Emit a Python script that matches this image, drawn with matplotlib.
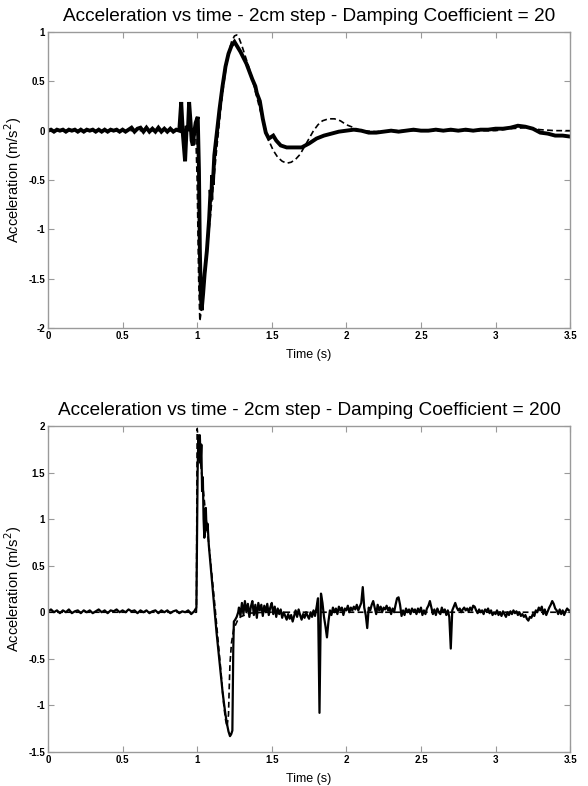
import numpy as np
import matplotlib
matplotlib.use("Agg")
import matplotlib.pyplot as plt

plt.rcParams['font.family'] = ['Liberation Sans', 'DejaVu Sans']

# ---------------- damping coefficient = 20 ----------------
# measured acceleration (thick, noisy trace)
t_exp20_quiet = np.round(np.arange(0.0, 0.87, 0.02), 3)
a_exp20_quiet = [0.00, 0.01, -0.01, 0.01, 0.00, 0.01, -0.01, 0.01, 0.00, 0.01,
                 -0.01, 0.01, -0.01, 0.01, 0.00, 0.01, -0.01, 0.01, -0.01, 0.01,
                 -0.01, 0.01, 0.00, 0.01, -0.01, 0.01, -0.01, 0.01, 0.03, -0.01,
                 0.02, 0.03, -0.01, 0.03, -0.01, 0.02, -0.01, 0.03, -0.01, 0.02,
                 -0.01, 0.02, -0.01, 0.01]
t_exp20_event = [0.88, 0.893, 0.905, 0.919, 0.93, 0.938, 0.946, 0.955, 0.963, 0.971,
                 0.98, 0.99, 1.004, 1.012, 1.018, 1.024, 1.03, 1.04, 1.05, 1.065,
                 1.08, 1.09, 1.095, 1.10, 1.105, 1.115, 1.13, 1.15, 1.17, 1.19,
                 1.21, 1.23, 1.25, 1.27, 1.29, 1.31, 1.33, 1.35, 1.37, 1.39,
                 1.40, 1.42, 1.44, 1.46, 1.48, 1.50, 1.51, 1.53, 1.56, 1.60,
                 1.65, 1.70, 1.75, 1.80, 1.85, 1.90, 1.95]
a_exp20_event = [0.00, 0.29, -0.05, -0.31, 0.05, 0.00, 0.29, 0.10, -0.10, -0.15,
                 -0.02, 0.08, 0.14, -0.40, -1.20, -1.65, -1.82, -1.65, -1.45, -1.22,
                 -0.90, -0.60, -0.70, -0.45, -0.55, -0.25, -0.05, 0.22, 0.45, 0.65,
                 0.78, 0.86, 0.90, 0.85, 0.80, 0.74, 0.68, 0.60, 0.52, 0.45,
                 0.38, 0.30, 0.12, -0.02, -0.08, -0.06, -0.05, -0.10, -0.15, -0.17,
                 -0.17, -0.17, -0.13, -0.08, -0.05, -0.03, -0.01]
t_exp20_tail = np.round(np.arange(2.0, 3.501, 0.05), 3)
a_exp20_tail = [0.00, 0.01, 0.00, -0.02, -0.02, -0.01, 0.00, -0.01, 0.00, 0.01,
                0.00, 0.00, 0.01, 0.00, 0.01, 0.00, 0.01, 0.00, 0.01, 0.01,
                0.02, 0.02, 0.03, 0.05, 0.04, 0.02, -0.02, -0.03, -0.05, -0.05,
                -0.06]

# model (dashed)
t_mod20 = [0.0, 0.99, 1.0, 1.01, 1.018, 1.03, 1.05, 1.07, 1.09, 1.11,
           1.13, 1.15, 1.17, 1.19, 1.21, 1.23, 1.25, 1.265, 1.28, 1.30,
           1.33, 1.36, 1.39, 1.42, 1.45, 1.48, 1.51, 1.54, 1.57, 1.60,
           1.63, 1.66, 1.69, 1.72, 1.75, 1.78, 1.81, 1.84, 1.88, 1.92,
           1.96, 2.0, 2.05, 2.10, 2.20, 2.30, 3.0, 3.1, 3.2, 3.3, 3.4, 3.5]
a_mod20 = [0.0, 0.0, -0.5, -1.5, -1.93, -1.80, -1.50, -1.15, -0.85, -0.52,
           -0.20, 0.10, 0.38, 0.60, 0.78, 0.90, 0.96, 0.97, 0.94, 0.86,
           0.72, 0.58, 0.40, 0.22, 0.06, -0.10, -0.20, -0.27, -0.31, -0.33,
           -0.32, -0.29, -0.24, -0.16, -0.08, 0.00, 0.06, 0.10, 0.12, 0.12,
           0.10, 0.06, 0.03, 0.00, -0.01, 0.00, 0.00, 0.02, 0.03, 0.01, 0.00, 0.00]

# ---------------- damping coefficient = 200 ----------------
t_exp200_quiet = np.round(np.arange(0.0, 0.99, 0.02), 3)
a_exp200_quiet = [0.01, 0.03, 0.00, 0.02, -0.01, 0.02, 0.00, 0.03, -0.01, 0.01,
                  0.02, -0.01, 0.02, 0.00, 0.02, -0.01, 0.01, 0.03, 0.00, 0.02,
                  -0.01, 0.02, 0.01, 0.03, 0.00, 0.02, 0.00, 0.03, 0.01, 0.02,
                  -0.01, 0.02, 0.00, 0.02, -0.01, 0.01, 0.02, -0.01, 0.02, 0.00,
                  0.02, -0.01, 0.01, 0.02, -0.01, 0.01, 0.00, 0.02, -0.02, 0.01]
t_exp200_event = [0.995, 1.003, 1.008, 1.013, 1.018, 1.023, 1.028, 1.033, 1.038, 1.043,
                  1.048, 1.053, 1.058, 1.063, 1.07, 1.078, 1.09, 1.10, 1.11, 1.12,
                  1.13, 1.14, 1.15, 1.16, 1.17, 1.18, 1.19, 1.20, 1.21, 1.22,
                  1.228, 1.236, 1.242, 1.246, 1.255, 1.265, 1.275]
a_exp200_event = [0.05, 1.50, 1.90, 1.75, 1.90, 1.60, 1.80, 1.30, 1.45, 1.00,
                  0.80, 0.90, 1.12, 0.88, 0.95, 0.72, 0.50, 0.32, 0.12, -0.05,
                  -0.22, -0.38, -0.55, -0.70, -0.85, -0.98, -1.10, -1.20, -1.28, -1.33,
                  -1.31, -1.27, -0.40, -0.10, -0.08, -0.05, 0.00]
t_exp200_tail = np.round(np.arange(1.28, 3.505, 0.01), 3)
a_exp200_tail = [0.05, -0.04, 0.10, -0.02, 0.12, 0.00, 0.09, -0.05, 0.06, 0.12,   # 1.28
                 -0.03, 0.08, -0.06, 0.10, 0.02, 0.08, -0.04, 0.07, 0.00, 0.09,   # 1.38
                 -0.03, 0.05, 0.10, -0.02, 0.06, -0.05, 0.04, -0.02, 0.03, -0.06, # 1.48
                 0.00, -0.04, -0.08, -0.02, -0.07, -0.03, -0.10, -0.04, 0.02, -0.05, # 1.58
                 0.03, -0.03, -0.08, -0.02, -0.06, 0.00, -0.04, -0.07, 0.00, -0.05, # 1.68
                 0.02, -0.04, 0.05, 0.15, -1.08, 0.20, 0.10, -0.05, -0.15, -0.27,  # 1.78
                 -0.10, 0.02, -0.03, 0.05, 0.00, 0.04, -0.02, 0.06, 0.02, 0.05,    # 1.88
                 -0.03, 0.04, 0.02, 0.07, 0.00, 0.05, 0.02, 0.06, 0.03, 0.08,      # 1.98
                 0.02, 0.06, 0.10, 0.27, 0.05, -0.03, -0.17, 0.05, 0.02, 0.08,     # 2.08
                 0.12, 0.05, -0.02, 0.08, 0.02, 0.06, 0.00, 0.05, 0.03, 0.07,      # 2.18
                 0.02, 0.05, -0.02, 0.04, 0.00, 0.08, 0.15, 0.16, 0.08, -0.04,     # 2.28
                 0.02, -0.03, 0.04, 0.00, 0.03, -0.02, 0.04, 0.01, 0.03, -0.02,    # 2.38
                 0.04, 0.00, 0.05, -0.03, 0.02, -0.02, 0.04, 0.07, 0.12, 0.05,     # 2.48
                 -0.02, 0.03, -0.03, 0.04, 0.00, -0.02, 0.05, 0.00, 0.03, -0.03,   # 2.58
                 0.02, -0.05, -0.39, 0.02, 0.06, 0.10, 0.05, 0.02, 0.04, 0.00,     # 2.68
                 0.03, 0.05, 0.02, 0.04, 0.01, 0.05, 0.02, 0.07, 0.06, 0.02,       # 2.78
                 -0.01, 0.03, 0.00, 0.02, -0.02, 0.03, 0.01, 0.04, -0.01, 0.02,    # 2.88
                 -0.03, 0.00, -0.02, 0.02, -0.03, 0.00, -0.04, 0.01, -0.02, -0.05, # 2.98
                 0.00, -0.03, 0.01, -0.02, 0.02, -0.01, 0.01, -0.03, 0.00, -0.04,  # 3.08
                 -0.02, -0.05, -0.03, -0.07, -0.09, -0.05, -0.06, -0.02, -0.04, 0.02, # 3.18
                 0.00, 0.05, 0.02, 0.06, -0.02, 0.03, -0.03, 0.01, 0.05, 0.08,     # 3.28
                 0.12, 0.09, 0.04, 0.02, -0.02, 0.03, -0.02, 0.02, -0.03, 0.01,    # 3.38
                 0.04, 0.02, 0.02]                                                 # 3.48

t_mod200 = [0.0, 0.995, 1.0, 1.02, 1.04, 1.06, 1.08, 1.10, 1.12, 1.14,
            1.16, 1.17, 1.18, 1.19, 1.20, 1.21, 1.215, 1.22, 1.23, 1.245,
            1.27, 1.29, 1.35, 1.45, 3.5]
a_mod200 = [0.0, 0.0, 1.97, 1.65, 1.33, 1.00, 0.70, 0.38, 0.05, -0.30,
            -0.65, -0.85, -1.02, -1.15, -1.23, -1.10, -0.80, -0.55, -0.33, -0.18,
            -0.09, -0.05, -0.01, 0.0, 0.0]

t_exp20 = np.concatenate([t_exp20_quiet, t_exp20_event, t_exp20_tail])
a_exp20 = np.concatenate([a_exp20_quiet, a_exp20_event, a_exp20_tail])
t_exp200 = np.concatenate([t_exp200_quiet, t_exp200_event, t_exp200_tail])
a_exp200 = np.concatenate([a_exp200_quiet, a_exp200_event, a_exp200_tail])

titles = ["Acceleration vs time - 2cm step - Damping Coefficient = 20",
          "Acceleration vs time - 2cm step - Damping Coefficient = 200"]
xticks = [0, 0.5, 1, 1.5, 2, 2.5, 3, 3.5]
xticklabels = ["0", "0.5", "1", "1.5", "2", "2.5", "3", "3.5"]
yticks_top = [-2, -1.5, -1, -0.5, 0, 0.5, 1]
yticks_bot = [-1.5, -1, -0.5, 0, 0.5, 1, 1.5, 2]

fig = plt.figure(figsize=(5.88, 7.86), dpi=100)
ax1 = fig.add_axes([0.0816, 0.5827, 0.888, 0.3766])
ax2 = fig.add_axes([0.0816, 0.0433, 0.888, 0.4148])

ax1.plot(t_exp20, a_exp20, color='black', lw=2.8, solid_joinstyle='miter')
ax1.plot(t_mod20, a_mod20, color='black', lw=1.2, ls=(0, (3.5, 2)))
ax2.plot(t_exp200, a_exp200, color='black', lw=1.6)
ax2.plot(t_mod200, a_mod200, color='black', lw=1.2, ls=(0, (3.5, 2)))

grey = '#9a9a9a'
for ax, title, yt, ylim in [(ax1, titles[0], yticks_top, (-2, 1)),
                            (ax2, titles[1], yticks_bot, (-1.5, 2))]:
    ax.set_xlim(0, 3.5)
    ax.set_ylim(*ylim)
    ax.set_xticks(xticks)
    ax.set_xticklabels(xticklabels)
    ax.set_yticks(yt)
    ax.set_yticklabels([f"{v:g}" for v in yt])
    ax.tick_params(direction='in', length=4, width=0.8, color=grey,
                   top=True, right=True, labelsize=7, pad=2)
    for lbl in ax.get_xticklabels() + ax.get_yticklabels():
        lbl.set_fontweight('bold')
    for sp in ax.spines.values():
        sp.set_color(grey)
        sp.set_linewidth(1.0)
    ax.set_title(title, fontsize=13.7, pad=8)
    ax.set_xlabel("Time (s)", fontsize=9, labelpad=6)
    ax.set_ylabel("Acceleration (m/s$^2$)", fontsize=10.5)
    ax.yaxis.set_label_coords(-0.045, 0.5)

fig.savefig("out.png", dpi=100)
